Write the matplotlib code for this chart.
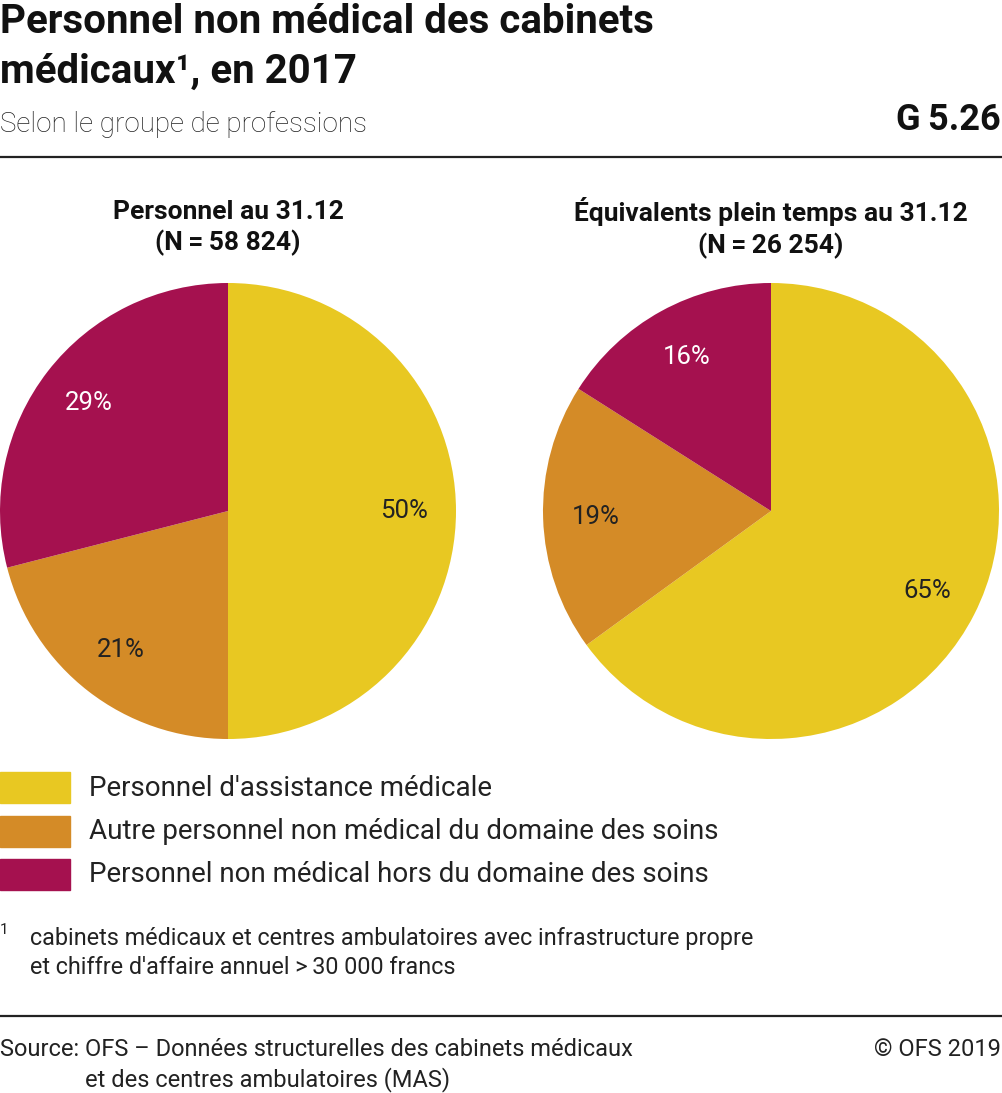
import matplotlib
matplotlib.use("Agg")
import matplotlib.pyplot as plt
from matplotlib.patches import Rectangle

plt.rcParams['font.family'] = ['Roboto', 'DejaVu Sans']

# données
categories = ["Personnel d'assistance médicale",
              "Autre personnel non médical du domaine des soins",
              "Personnel non médical hors du domaine des soins"]
personnel = [50, 21, 29]
epT = [65, 19, 16]
pie_titles = ["Personnel au 31.12\n(N\u2009=\u200958\u00a0824)",
              "Équivalents plein temps au 31.12\n(N\u2009=\u200926\u00a0254)"]
colors = ["#E8C822", "#D48B27", "#A5114F"]
label_colors = ["#222222", "#222222", "white"]

W, H = 1003, 1093
fig = plt.figure(figsize=(W / 100, H / 100), dpi=100)


def fx(x):
    return x / W


def fy(y):
    return 1 - y / H


def txt(x, y, s, **kw):
    fig.text(fx(x), fy(y), s, **kw)


# titre
txt(0, 22, "Personnel non médical des cabinets", fontsize=29, fontweight='bold',
    va='center', color='#111111')
txt(0, 72, "médicaux¹, en 2017", fontsize=29, fontweight='bold',
    va='center', color='#111111')
txt(0, 124, "Selon le groupe de professions", fontsize=20, fontweight='light',
    va='center', color='#222222')
txt(1001, 120, "G\u20095.26", fontsize=26, fontweight='bold', va='center', ha='right',
    color='#111111')

for yl in (157, 1016):
    fig.add_artist(plt.Line2D([0, 1], [fy(yl), fy(yl)], color='#222222', lw=1.6))

# camemberts
centres = [228, 771]
for cx, vals, title in zip(centres, [personnel, epT], pie_titles):
    r = 228
    ax = fig.add_axes([fx(cx - r), fy(511 + r), fx(2 * r), 2 * r / H])
    wedges, texts, autotexts = ax.pie(
        vals, colors=colors, startangle=90, counterclock=False,
        autopct=lambda p: f"{p:.0f}%", pctdistance=0.77,
        wedgeprops=dict(linewidth=0),
        textprops=dict(fontsize=18.5))
    for t, c in zip(autotexts, label_colors):
        t.set_color(c)
    ax.set_xlim(-1, 1)
    ax.set_ylim(-1, 1)
    ax.set_aspect('equal')
    txt(cx, 228, title, fontsize=19, fontweight='bold', ha='center',
        va='center', linespacing=1.3, color='#111111')

# légende
for i, (lab, c) in enumerate(zip(categories, colors)):
    y0 = 772 + i * 43.5
    fig.add_artist(Rectangle((0, fy(y0 + 31)), fx(70), 31 / H, color=c,
                             transform=fig.transFigure))
    txt(89, y0 + 16, lab, fontsize=20, va='center', color='#222222')

# note
txt(0, 930, "1", fontsize=11, va='center', color='#222222')
txt(30, 938, "cabinets médicaux et centres ambulatoires avec infrastructure propre",
    fontsize=16.8, va='center', color='#222222')
txt(30, 967, "et chiffre d'affaire annuel >\u200930\u00a0000 francs",
    fontsize=16.8, va='center', color='#222222')

# source
txt(0, 1050, "Source: OFS – Données structurelles des cabinets médicaux",
    fontsize=17, va='center', color='#222222')
txt(85, 1080, "et des centres ambulatoires (MAS)",
    fontsize=17, va='center', color='#222222')
txt(1001, 1050, "© OFS 2019", fontsize=17, va='center',
    ha='right', color='#222222')

plt.savefig('out.png', dpi=100)
